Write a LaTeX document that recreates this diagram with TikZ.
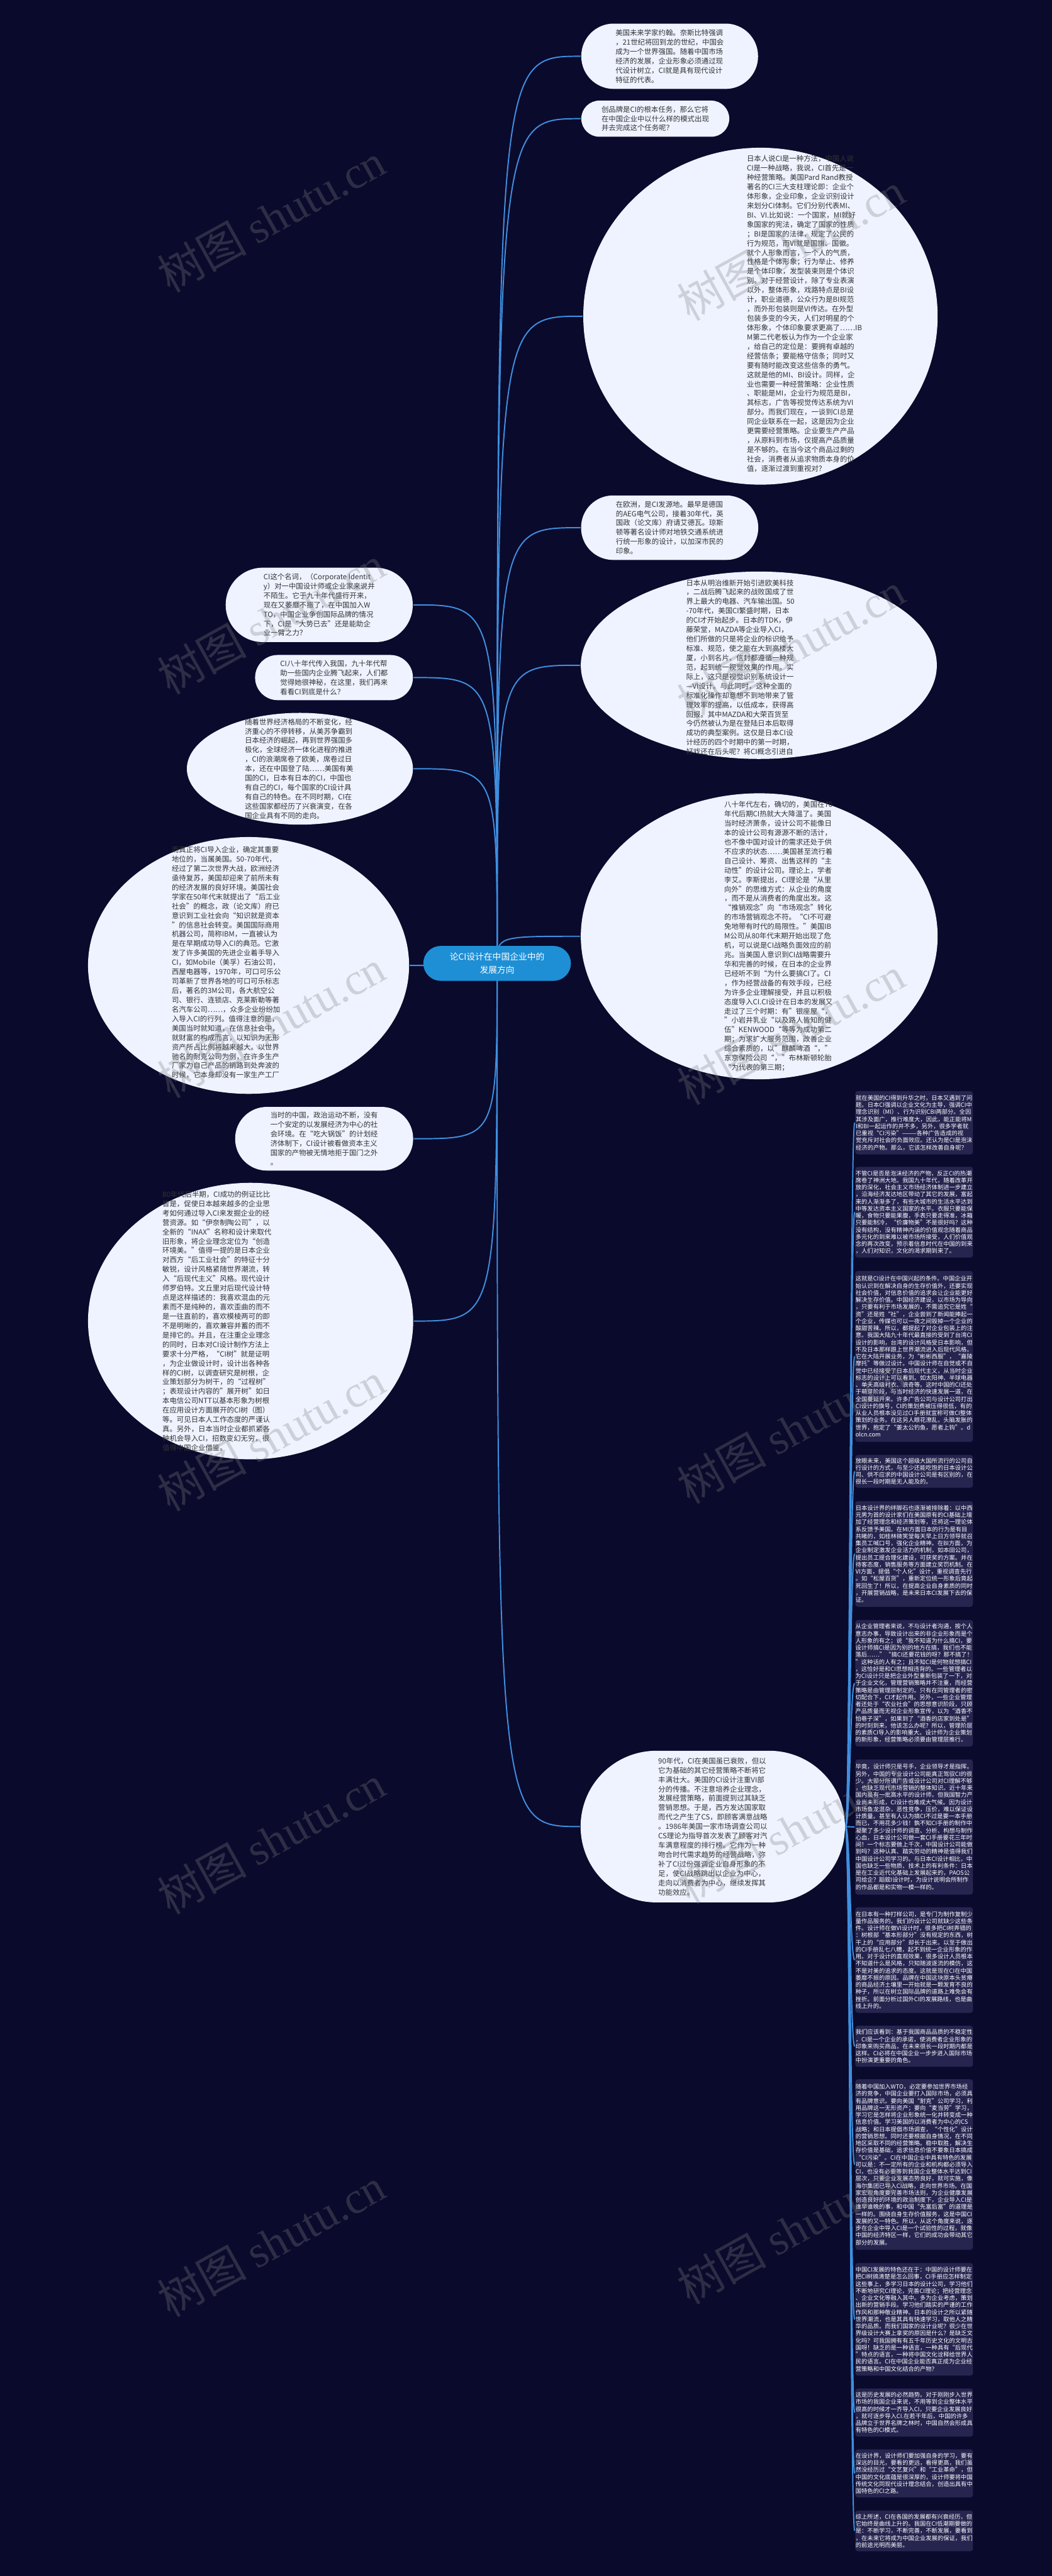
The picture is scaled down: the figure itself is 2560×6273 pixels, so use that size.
\documentclass[tikz,border=0pt]{standalone}
\usepackage{fontspec}
\setmainfont{Noto Sans CJK SC}
\newfontfamily\wmlatin{Liberation Serif}
\usetikzlibrary{calc, shapes.geometric, backgrounds}
\definecolor{cbg}{HTML}{0A0A2C}
\definecolor{cbub}{HTML}{EEF3FF}
\definecolor{cink}{HTML}{333333}
\definecolor{cline}{HTML}{3F8FDF}
\definecolor{cbox}{HTML}{26254F}
\definecolor{cctr}{HTML}{1E8FD5}
\tikzset{
  every picture/.style={line width=0.85pt},
  bubble/.style={fill=cbub, text=cink, align=left, inner sep=0pt, font=\fontsize{4.96pt}{6.5pt}\selectfont},
  oval/.style={ellipse, fill=cbub, inner sep=0pt},
  btext/.style={text=cink, align=left, inner sep=0pt, font=\fontsize{4.96pt}{6.5pt}\selectfont},
  darkbox/.style={fill=cbox, text=white, rounded corners=0.06cm, align=left, inner sep=0pt, minimum width=2.86cm, font=\fontsize{4.05pt}{4.9pt}\selectfont},
  topic/.style={fill=cctr, text=white, rounded corners=0.425cm, align=center, inner sep=0pt, minimum width=3.59cm, minimum height=0.85cm, font=\fontsize{6pt}{9pt}\selectfont},
  link/.style={draw=cline, line width=0.85pt},
  wmark/.style={text=gray, opacity=0.3, rotate=29, font=\fontsize{31pt}{33pt}\selectfont},
}
% connector from the topic: leaves vertically, enters sideways
\newcommand{\rootlink}[1]{\draw[link] (ctr.center) .. controls (ctr.center |- #1) .. (#1);}
% connector for the second level, vertical half way
\newcommand{\mmlink}[2]{\draw[link] let \p1=(#1), \p2=(#2) in (\p1) .. controls ({(\x1+\x2)/2},\y1) and ({(\x1+\x2)/2},\y2) .. (\p2);}

\begin{document}
\begin{tikzpicture}[x=0.01cm, y=-0.01cm]
  \useasboundingbox (0,0) rectangle (2560,6273);
  \begin{scope}[on background layer]
    \fill[cbg] (0,0) rectangle (2560,6273);
  \end{scope}

  % central topic
  \node[topic] (ctr) at (1210,2346) {论CI设计在中国企业中的\\发展方向};

  % right side
  \node[bubble, minimum width=4.30cm, minimum height=1.59cm, rounded corners=0.79cm] (n1) at (1630,137) {美国未来学家约翰。奈斯比特强调\\，21世纪将回到龙的世纪，中国会\\成为一个世界强国。随着中国市场\\经济的发展，企业形象必须通过现\\代设计树立，CI就是具有现代设计\\特征的代表。};
  \node[bubble, minimum width=3.60cm, minimum height=0.88cm, rounded corners=0.44cm] (n2) at (1595,289) {创品牌是CI的根本任务，那么它将\\在中国企业中以什么样的模式出现\\并去完成这个任务呢？};
  \node[oval, minimum width=8.62cm, minimum height=8.20cm] (n3) at (1851,770) {};
  \node[btext] (n3t) at (1958,764) {日本人说CI是一种方法，中国人说\\CI是一种战略，我说，CI首先是一\\种经营策略。美国Pard Rand教授\\著名的CI三大支柱理论即：企业个\\体形象，企业印象，企业识别设计\\来划分CI体制。它们分别代表MI、\\BI、VI.比如说：一个国家，MI就好\\象国家的宪法，确定了国家的性质\\；BI是国家的法律，规定了公民的\\行为规范，而VI就是国旗、国徽。\\就个人形象而言，一个人的气质，\\性格是个体形象；行为举止、修养\\是个体印象，发型装束则是个体识\\别。对于经营设计，除了专业表演\\以外，整体形象，戏路特点是BI设\\计，职业道德，公众行为是BI规范\\，而外形包装则是VI传达。在外型\\包装多变的今天，人们对明星的个\\体形象，个体印象要求更高了……IB\\M第二代老板认为作为一个企业家\\，给自己的定位是：要拥有卓越的\\经营信条；要能格守信条；同时又\\要有随时能改变这些信条的勇气。\\这就是他的MI、BI设计。同样，企\\业也需要一种经营策略：企业性质\\、职能是MI，企业行为规范是BI，\\其标志，广告等视觉传达系统为VI\\部分。而我们现在，一谈到CI总是\\同企业联系在一起，这是因为企业\\更需要经营策略。企业要生产产品\\，从原料到市场，仅提高产品质量\\是不够的。在当今这个商品过剩的\\社会，消费者从追求物质本身的价\\值，逐渐过渡到重视对？};
  \node[bubble, minimum width=4.31cm, minimum height=1.57cm, rounded corners=0.78cm] (n4) at (1630,1285) {在欧洲，是CI发源地。最早是德国\\的AEG电气公司，接着30年代，英\\国政（论文库）府请艾德瓦。琼斯\\顿等著名设计师对地铁交通系统进\\行统一形象的设计，以加深市民的\\印象。};
  \node[oval, minimum width=8.66cm, minimum height=4.56cm] (n5) at (1847,1620) {};
  \node[btext] (n5t) at (1802,1625) {日本从明治维新开始引进欧美科技\\，二战后腾飞起来的战败国成了世\\界上最大的电器、汽车输出国。50\\-70年代，美国CI繁盛时期，日本\\的CI才开始起步。日本的TDK，伊\\藤荣堂，MAZDA等企业导入CI，\\他们所做的只是将企业的标识给予\\标准、规范，使之能在大到高楼大\\厦，小到名片、信封都遵循一种规\\范，起到统一视觉效果的作用。实\\际上，这只是视觉识别系统设计一\\—VI设计。与此同时，这种全面的\\标准化操作却意想不到地带来了管\\理效率的提高，以低成本，获得高\\回报。其中MAZDA和大荣百货至\\今仍然被认为是在登陆日本后取得\\成功的典型案例。这仅是日本CI设\\计经历的四个时期中的第一时期，\\好戏还在后头呢？将CI概念引进自};
  \node[oval, minimum width=8.68cm, minimum height=6.96cm] (n11) at (1848,2280) {};
  \node[btext] (n11t) at (1895,2280) {八十年代左右，确切的，美国在70\\年代后期CI热就大大降温了。美国\\当时经济萧条，设计公司不能像日\\本的设计公司有源源不断的活计，\\也不像中国对设计的需求还处于供\\不应求的状态……美国甚至流行着\\自己设计、筹资、出售这样的“主\\动性”的设计公司。理论上，学者\\李艾。李斯提出，CI理论是“从里\\向外”的思维方式：从企业的角度\\，而不是从消费者的角度出发。这\\“推销观念”向“市场观念”转化\\的市场营销观念不符。“CI不可避\\免地带有时代的局限性。”美国IB\\M公司从80年代末期开始出现了危\\机，可以说是CI战略负面效应的前\\兆。当美国人意识到CI战略需要升\\华和完善的时候，在日本的企业界\\已经听不到“为什么要搞CI了。CI\\，作为经营战备的有效手段，已经\\为许多企业理解接受，并且以积极\\态度导入CI.CI设计在日本的发展又\\走过了三个时期：有”银座屋“，\\”小岩井乳业“以及路人皆知的健\\伍”KENWOOD“等等为成功第二\\期；为求扩大服务范围，改善企业\\综合素质的，以”麒麟啤酒“，”\\东京保险公司“，”布林斯顿轮胎\\“为代表的第三期；};
  \node[bubble, minimum width=6.43cm, minimum height=3.69cm, rounded corners=1.84cm] (n15) at (1735,4448) {90年代，CI在美国虽已衰败，但以\\它为基础的其它经营策略不断将它\\丰满壮大。美国的CI设计注重VI部\\分的传播。不注意培养企业理念，\\发展经营策略，前面提到过其缺乏\\营销思想。于是，西方发达国家取\\而代之产生了CS，即顾客满意战略\\。1986年美国一家市场调查公司以\\CS理论为指导首次发表了顾客对汽\\车满意程度的排行榜。它作为一种\\吻合时代需求趋势的经营战略，弥\\补了CI过份强调企业自身形象的不\\足，使CI战略跳出以企业为中心，\\走向以消费者为中心，继续发挥其\\功能效应。};

  % left side
  \node[bubble, minimum width=4.55cm, minimum height=1.81cm, rounded corners=0.9cm] (n6) at (777,1473) {CI这个名词，（Corporate Identit\\y）对一中国设计师或企业家来说并\\不陌生。它于九十年代盛行开来，\\现在又萎靡不振了，在中国加入W\\TO，中国企业争创国际品牌的情况\\下，CI是“大势已去”还是能助企\\业一臂之力？};
  \node[bubble, minimum width=3.84cm, minimum height=1.10cm, rounded corners=0.55cm] (n7) at (813,1650) {CI八十年代传入我国，九十年代帮\\助一些国内企业腾飞起来，人们都\\觉得她很神秘，在这里，我们再来\\看看CI到底是什么？};
  \node[oval, minimum width=5.50cm, minimum height=2.72cm] (n8) at (730,1872) {};
  \node[btext] (n8t) at (728,1872) {随着世界经济格局的不断变化，经\\济重心的不停转移，从美苏争霸到\\日本经济的崛起，再到世界强国多\\极化，全球经济一体化进程的推进\\，CI的浪潮席卷了欧美，席卷过日\\本，还在中国登了陆……美国有美\\国的CI，日本有日本的CI，中国也\\有自己的CI，每个国家的CI设计具\\有自己的特色。在不同时期，CI在\\这些国家都经历了兴衰演变，在各\\国企业具有不同的走向。};
  \node[oval, minimum width=7.81cm, minimum height=6.25cm] (n9) at (605,2351) {};
  \node[btext] (n9t) at (551,2355) {而真正将CI导入企业，确定其重要\\地位的，当属美国。50-70年代，\\经过了第二次世界大战，欧洲经济\\亟待复苏，美国却迎来了前所未有\\的经济发展的良好环境。美国社会\\学家在50年代末就提出了“后工业\\社会”的概念，政（论文库）府已\\意识到工业社会向“知识就是资本\\”的信息社会转变。美国国际商用\\机器公司，简称IBM，一直被认为\\是在早期成功导入CI的典范。它激\\发了许多美国的先进企业着手导入\\CI，如Mobile（美孚）石油公司，\\西屋电器等，1970年，可口可乐公\\司革新了世界各地的可口可乐标志\\后，著名的3M公司，各大航空公\\司、银行、连锁店、克莱斯勒等著\\名汽车公司……，众多企业纷纷加\\入导入CI的行列。值得注意的是，\\美国当时就知道，在信息社会中，\\就财富的构成而言，以知识为无形\\资产所占比例将越来越大。以世界\\驰名的耐克公司为例，在许多生产\\厂家为自己产品的销路到处奔波的\\时候，它本身却没有一家生产工厂\\。};
  \node[bubble, minimum width=4.33cm, minimum height=1.55cm, rounded corners=0.77cm] (n12) at (789,2773) {当时的中国，政治运动不断，没有\\一个安定的以发展经济为中心的社\\会环境。在“吃大锅饭”的计划经\\济体制下，CI设计被看做资本主义\\国家的产物被无情地拒于国门之外\\。};
  \node[oval, minimum width=7.91cm, minimum height=6.73cm] (n13) at (610,3217) {};
  \node[btext] (n13t) at (528,3217) {80年代后半期，CI成功的例证比比\\皆是，促使日本越来越多的企业思\\考如何通过导入CI来发掘企业的经\\营资源。如“伊奈制陶公司”，以\\全新的“INAX”名称和设计来取代\\旧形象，将企业理念定位为“创造\\环境美。”值得一提的是日本企业\\对西方“后工业社会”的特征十分\\敏锐，设计风格紧随世界潮流，转\\入“后现代主义”风格。现代设计\\师罗伯特。文丘里对后现代设计特\\点是这样描述的：我喜欢混血的元\\素而不是纯种的，喜欢歪曲的而不\\是一往直前的，喜欢模棱两可的即\\不是明晰的，喜欢兼容并蓄的而不\\是排它的。并且，在注重企业理念\\的同时，日本对CI设计制作方法上\\要求十分严格，“CI树”就是证明\\，为企业做设计时，设计出各种各\\样的CI树，以调查研究是树根，企\\业策划部分为树干，的“过程树”\\；表现设计内容的”展开树”如日\\本电信公司NTT以基本形象为树根\\在应用设计方面展开的CI树（图）\\等。可见日本人工作态度的严谨认\\真。另外，日本当时企业都抓紧各\\种机会导入CI，招数变幻无穷，很\\值得中国企业借鉴。};

  % dark boxes under the 90s node
  \node[darkbox, minimum height=1.54cm] (r1) at (2225,2734) {就在美国的CI得到升华之时，日本又遇到了问\\题。日本CI强调以企业文化为主导，强调CI中\\理念识别（MI）、行为识别CBI两部分。全因\\其涉及面广，推行难度大，因此，能正能将M\\I和BI一起运作的并不多，另外，很多学者就\\已重视“CI污染”———各种广告造成的视\\觉充斥对社会的负面效应。还认为是CI是泡沫\\经济的产物。那么，它该怎样改善自身呢？};
  \node[darkbox, minimum height=2.21cm] (r2) at (2225,2952) {不管CI是否是泡沫经济的产物，反正CI的热潮\\席卷了神洲大地。我国九十年代，随着改革开\\放的深化，社会主义市场经济体制进一步建立\\，沿海经济发达地区带动了其它的发展，富起\\来的人渐渐多了，有些大城市的生活水平达到\\中等发达资本主义国家的水平。衣服只要能保\\暖，食物只要能果腹，手表只要走得准，冰箱\\只要能制冷，“价廉物美”不是很好吗？这种\\没有结构，没有精神内涵的价值观念随着商品\\多元化的到来难以被市场所接受，人们价值观\\念的再次改变，预示着信息时代在中国的到来\\，人们对知识，文化的渴求期到来了。};
  \node[darkbox, minimum height=4.16cm] (r3) at (2225,3303) {这就是CI设计在中国兴起的条件。中国企业开\\始认识到在解决自身的生存价值外，还要实现\\社会价值，对信息价值的追求会让企业能更好\\解决生存价值。中国经济建设，以市场为导向\\，只要有利于市场发展的，不需追究它是姓“\\资”还是姓“社”，企业尝到了新闻能捧起一\\个企业，传媒也可以一夜之间毁掉一个企业的\\酸甜苦辣。所以，都提起了对企业包装上的注\\意。我国大陆九十年代最直接的受到了台湾CI\\设计的影响，台湾的设计风格受日本影响，但\\不及日本那样跟上世界潮流进入后现代风格。\\它在大陆开展业务，为“彬彬西服”，“嘉陵\\摩托”等做过设计。中国设计师在自觉或不自\\觉中已经接受了日本后现代主义，从当时企业\\标志的设计上可以看到。如太阳神、半球电器\\、单夫高级衬衣、浪奇等。这时中国的CI还处\\于萌芽阶段，与当时经济的快速发展一道，在\\全国蔓延开来。许多广告公司与设计公司打出\\CI设计的旗号，CI的策划费被压得很低，有的\\从业人员根本没见过CI手册就宣称可做CI整体\\策划的业务。在这另人眼花潦乱，头脑发胀的\\世界，抱定了“姜太公钓鱼，愿者上钩”。d\\olcn.com};
  \node[darkbox, minimum height=0.80cm] (r4) at (2225,3583) {放眼未来，美国这个超级大国所流行的公司自\\行设计的方式，与至少还能吃饱的日本设计公\\司、供不应求的中国设计公司是有区别的，在\\很长一段时期是无人能及的。};
  \node[darkbox, minimum height=2.57cm] (r5) at (2225,3784) {日本设计界的绊脚石也逐渐被排除着：以中西\\元男为首的设计家们在美国原有的CI基础上增\\加了经营理念和经济策划等，还将这一理论体\\系反馈予美国。在MI方面日本的行为是有目\\共睹的，如桂林微笑堂每天早上日方领导就召\\集员工喊口号，强化企业精神。在BI方面，为\\企业制定激发企业活力的机制，如本田公司，\\提出员工提合理化建设，可获奖的方案。并在\\待客态度，销售服务等方面建立奖罚机制。在\\VI方面，提倡“个人化”设计，重视调查先行\\。如“松屋百货”，重新定位统一形象后竟起\\死回生了！所以，在提高企业自身素质的同时\\，开展营销战略，是未来日本CI发展下去的保\\证。};
  \node[darkbox, minimum height=3.08cm] (r6) at (2225,4099) {从企业管理者来说，不与设计者沟通，按个人\\意志办事，导致设计出来的非企业形象而是个\\人形象的有之；说“我不知道为什么搞CI，要\\设计师搞CI是因为别的地方在搞，我们也不能\\落后……”“搞CI还要花钱的呀？那不搞了！\\”这种话的人有之；且不知CI是何物就想搞CI\\，这恰好是和CI思想相违背的。一些管理者以\\为CI设计只是把企业外型重新包装了一下，对\\于企业文化，管理营销策略并不注重，而经营\\策略是由管理层制定的。只有在同管理者的密\\切配合下，CI才起作用。另外，一些企业管理\\者还处于“农业社会”的思想意识阶段，只顾\\产品质量而无视企业形象宣传，以为“酒香不\\怕巷子深”，如果到了“酒香的店家到处是”\\的时刻到来，他该怎么办呢？所以，管理阶层\\的素质CI导入的影响重大。设计师为企业策划\\的新形象，经营策略必须要由管理层推行。};
  \node[darkbox, minimum height=3.29cm] (r7) at (2225,4449) {毕竟，设计师只是号手，企业领导才是指挥。\\另外，中国的专业设计公司能真正驾驭CI的很\\少。大部分所谓广告或设计公司对CI理解不够\\，也缺乏现代市场营销的整体知识。近十年来\\国内虽有一批高水平的设计师，但我国智力产\\业尚未形成，CI设计也难成大气候。因为设计\\市场鱼龙混杂，恶性竞争，压价，难以保证设\\计质量。甚至有人认为搞CI不过是要一本手册\\而已，不用花多少钱！孰不知CI手册的制作中\\凝聚了多少设计师的调查、分析、构想与制作\\心血，日本设计公司做一套CI手册要花三年时\\间！一个标志要做上千次，中国设计公司能做\\到吗？这种认真、踏实劳动的精神是值得我们\\中国设计公司学习的。与日本CI设计相比，中\\国也缺乏一些物质、技术上的有利条件：日本\\是在工业近代化基础上发展起来的，PAOS公\\司给企？蹈鋐I设计时，为设计说明会所制作\\的作品都是和实物一模一样的。};
  \node[darkbox, minimum height=2.57cm] (r8) at (2225,4773) {在日本有一种打样公司，是专门为制作复制少\\量作品服务的。我们的设计公司就缺少这些条\\件。设计师在做VI设计时，很多把CI树弄错的\\：树根部“基本形部分”没有规定的东西，树\\干上的“应用部分”却长于出来。以至于做出\\的CI手册乱七八糟，起不到统一企业形象的作\\用。对于设计的直观效果，很多设计人员根本\\不知道什么是风格，只知随波逐流的模仿，这\\不是对美的追求的态度。这就是现在CI在中国\\萎靡不振的原因。品牌在中国这块原本头贫瘠\\的商品经济土壤里一开始就是一颗发育不良的\\种子，所以在树立国际品牌的道路上难免会有\\挫折。前面分析过国外CI的发展路线，也是曲\\线上升的。};
  \node[darkbox, minimum height=1.00cm] (r9) at (2225,4983) {我们应该看到：基于我国商品品质的不稳定性\\，CI是一个企业的承诺，使消费者企业形象的\\印象来购买商品，在未来很长一段时期内都是\\这样。CI必将在中国企业一步步进入国际市场\\中扮演更重要的角色。};
  \node[darkbox, minimum height=4.15cm] (r10) at (2225,5271) {随着中国加入WTO，必定要参加世界市场经\\济的竞争，中国企业要打入国际市场，必须具\\有品牌意识。要向美国“耐克”公司学习，利\\用品牌这一无形资产；要向“麦当劳”学习，\\学习它是怎样将企业形象统一化并转变成一种\\信息价值。学习美国的以消费者为中心的CS\\战略；和日本提倡市场调查，“个性化”设计\\的营销思想。同时还要根据自身情况，在不同\\地区采取不同的经营策略。稳中取胜，解决生\\存价值是基础，追求信息价值不要象日本搞成\\“CI污染”。CI在中国企业中具有特色的发展\\可以是：不一定所有的企业和机构都必须导入\\CI，也没有必要等到我国企业整体水平达到CI\\层次，只要企业发展态势良好，就可实施，像\\海尔集团已导入CI战略，走向世界市场。在国\\家宏观角度要完善市场法则，为企业健康发展\\创造良好的环境的政治制度下，企业导入CI是\\谁早谁晚的事，和中国“先富后富”的道理是\\一样的。围绕自身生存价值服务，这是中国CI\\发展的又一特色。所以，从这个角度来说，逐\\步在企业中导入CI是一个试验性的过程，就像\\中国的经济特区一样，它们的成功会带动其它\\部分的发展。};
  \node[darkbox, minimum height=2.74cm] (r11) at (2225,5648) {中国CI发展的特色还在于：中国的设计师要在\\把CI树搞清楚是怎么回事，CI手册应怎样制定\\这些事上，多学习日本的设计公司，学习他们\\不断地研究CI理论，完善CI理论；把经营理念\\、企业文化等融入其中。多为企业考虑，策划\\出新的营销手段。学习他们踏实的严谨的工作\\作风和那种敬业精神。日本的设计之所以紧随\\世界潮流，也是其具有快速学习，取他人之精\\华的品质。而我们国家的设计业呢？很少在世\\界级设计大赛上拿奖的原因是什么？是缺乏文\\化吗？可我国拥有有五千年历史文化的文明古\\国呀！缺乏的是一种语言，一种具有“后现代\\”特点的语言，一种将中国文化诠释给世界人\\民的语言。CI在中国企业能否真正成为企业经\\营策略和中国文化结合的产物？};
  \node[darkbox, minimum height=1.17cm] (r12) at (2225,5875) {这是历史发展的必然趋势。对于刚刚步入世界\\市场的我国企业来说，不用等到企业整体水平\\很高的时候才一齐导入CI，只要企业发展良好\\，就可逐步导入CI.在若干年后，中国的许多\\品牌立于世界名牌之林时，中国自然会形成具\\有特色的CI模式。};
  \node[darkbox, minimum height=1.17cm] (r13) at (2225,6023) {在设计界，设计师们要加强自身的学习，要有\\深远的目光，要看的更远，看得更高，我们虽\\然没经历过“文艺复兴”和“工业革命”，但\\中国的文化底蕴是很深厚的，设计师要将中国\\传统文化同现代设计理念结合，创造出具有中\\国特色的CI之路。};
  \node[darkbox, minimum height=0.99cm] (r14) at (2225,6163) {综上所述，CI在各国的发展都有兴衰经历，但\\它始终是曲线上升的。我国在CI低潮期要做的\\是：不断学习，不断完善，不断发展，要看到\\，在未来它将成为中国企业发展的保证，我们\\的前途光明而美丽。};

  \begin{scope}[on background layer]
    \foreach \nd in {n1,n2,n3,n4,n5,n11,n15} {\rootlink{\nd.west}}
    \foreach \nd in {n6,n7,n8,n9,n12,n13} {\rootlink{\nd.east}}
    \foreach \nd in {r1,r2,r3,r4,r5,r6,r7,r8,r9,r10,r11,r12,r13,r14} {\mmlink{n15.east}{\nd.west}}
  \end{scope}

  % watermark
  \foreach \wl/\wr in {530/600,1510/1575,2493/2510,3498/3480,4480/4455,5460/5430} {
    \node[wmark] at (660,\wl) {树图 {\wmlatin shutu.cn}};
    \node[wmark] at (1925,\wr) {树图 {\wmlatin shutu.cn}};
  }
\end{tikzpicture}
\end{document}
